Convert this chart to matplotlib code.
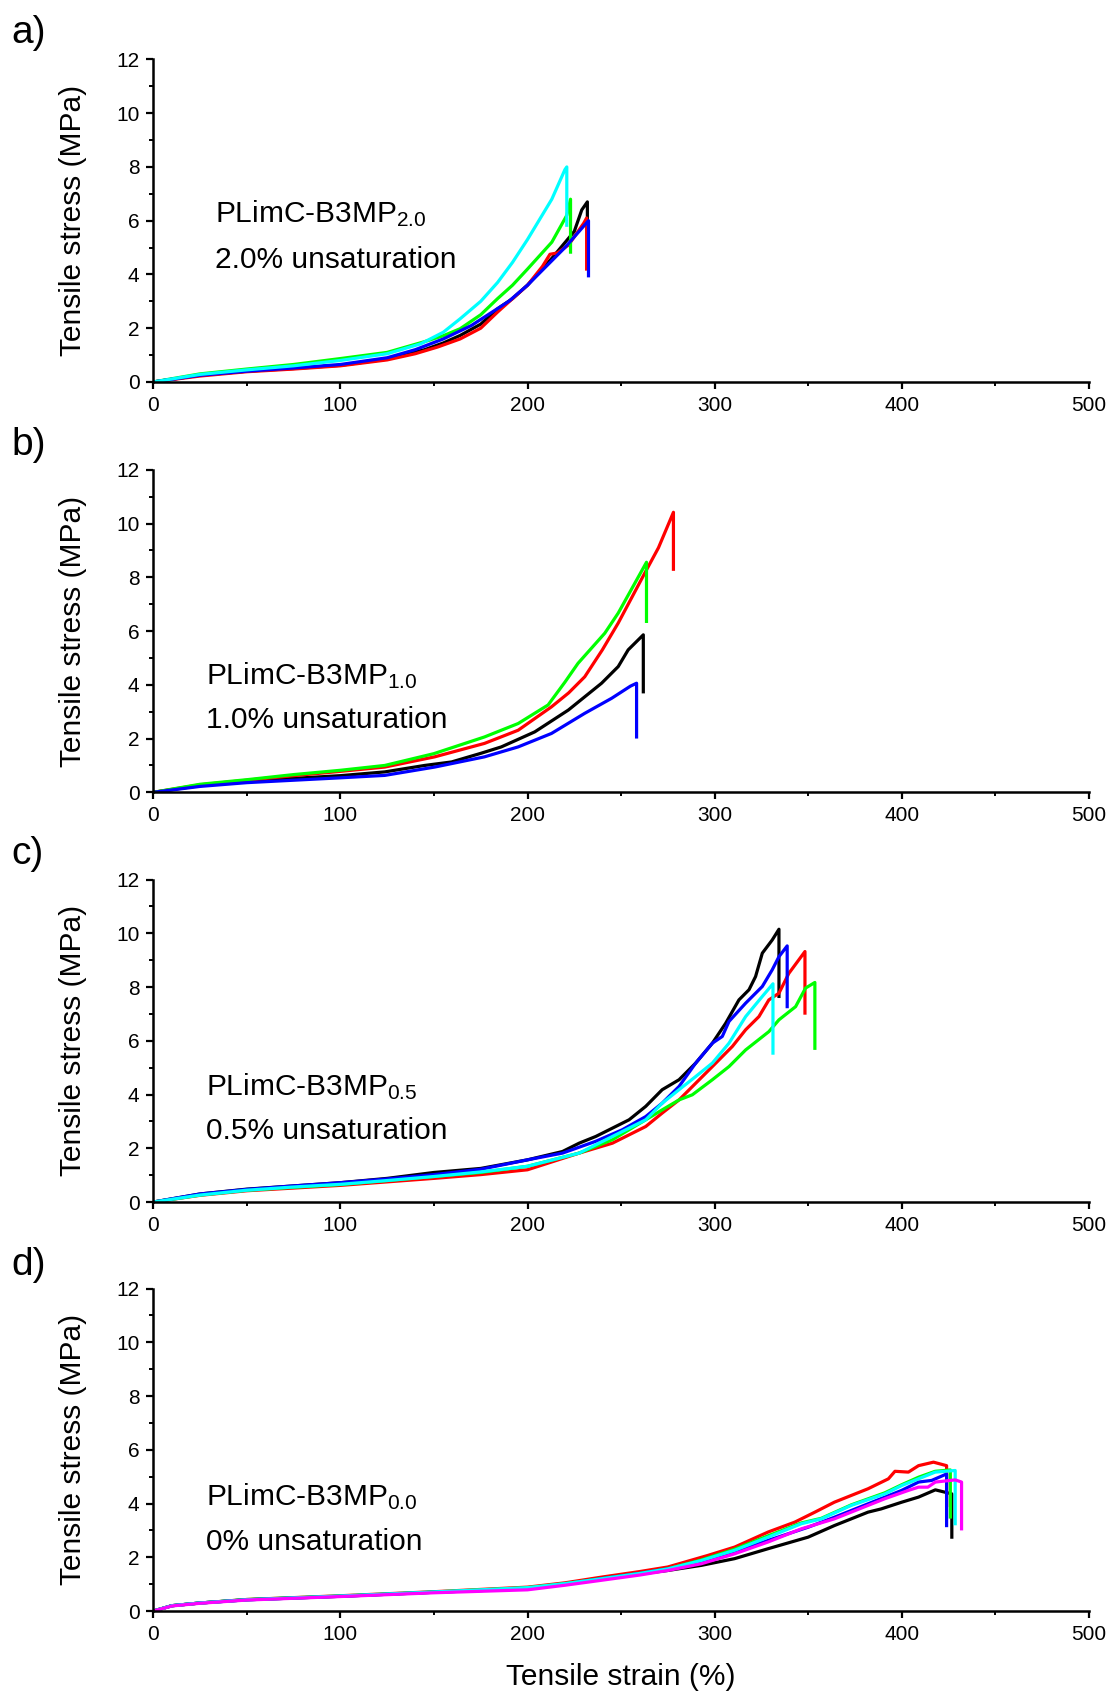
"""Tensile stress-strain curves of PLimC-B3MP films, four unsaturation levels."""

import matplotlib
matplotlib.use("Agg")
import matplotlib.pyplot as plt
from matplotlib.ticker import MultipleLocator

plt.rcParams["font.family"] = ["Liberation Sans", "DejaVu Sans"]
plt.rcParams["mathtext.default"] = "regular"

# (strain %, stress MPa); last point is the break drop
# a) 2.0 % unsaturation
a_black = [(0, 0), (25, 0.25), (50, 0.4), (75, 0.5), (100, 0.62), (125, 0.85), (145, 1.2),
           (155, 1.45), (164, 1.73), (175, 2.15), (184, 2.72), (192, 3.1), (200, 3.6),
           (213, 4.6), (225, 5.6), (229, 6.4), (232, 6.7), (232, 5.2)]
a_red = [(0, 0), (25, 0.22), (50, 0.38), (75, 0.48), (100, 0.6), (125, 0.82), (140, 1.05),
         (152, 1.3), (164, 1.6), (175, 2.0), (184, 2.6), (192, 3.1), (200, 3.6), (208, 4.3),
         (212, 4.75), (216, 4.8), (222, 5.1), (230, 5.9), (231.6, 6.1), (231.6, 4.2)]
a_green = [(0, 0), (25, 0.3), (50, 0.48), (75, 0.65), (100, 0.87), (125, 1.1), (145, 1.5),
           (155, 1.72), (164, 1.98), (175, 2.5), (184, 3.1), (192, 3.6), (200, 4.2),
           (213, 5.2), (221, 6.2), (223, 6.8), (223, 4.83)]
a_blue = [(0, 0), (25, 0.25), (50, 0.4), (75, 0.52), (100, 0.65), (125, 0.9), (140, 1.2),
          (155, 1.6), (170, 2.1), (180, 2.55), (190, 3.0), (200, 3.6), (210, 4.3),
          (220, 5.0), (232.6, 6.0), (232.6, 3.95)]
a_cyan = [(0, 0), (25, 0.28), (50, 0.45), (75, 0.6), (100, 0.8), (125, 1.05), (143, 1.42),
          (155, 1.85), (164, 2.35), (175, 3.0), (184, 3.7), (192, 4.45), (200, 5.3),
          (213, 6.8), (220, 7.9), (221, 8.0), (221, 5.83)]

# b) 1.0 % unsaturation
b_black = [(0, 0), (25, 0.25), (50, 0.4), (75, 0.52), (100, 0.62), (123.7, 0.76),
           (145, 1.0), (159.4, 1.13), (175, 1.45), (186, 1.69), (203.9, 2.25),
           (221.8, 3.06), (239.6, 4.06), (248.5, 4.68), (253.8, 5.3), (261.9, 5.86),
           (261.9, 3.74)]
b_red = [(0, 0), (25, 0.28), (50, 0.45), (75, 0.62), (100, 0.78), (123.7, 0.94),
         (150.4, 1.32), (177, 1.82), (195, 2.31), (212.8, 3.18), (222, 3.7), (230.6, 4.3),
         (240, 5.3), (248.5, 6.3), (262.7, 8.16), (270, 9.1), (278, 10.42), (278, 8.3)]
b_green = [(0, 0), (25, 0.3), (50, 0.47), (75, 0.66), (100, 0.82), (123.7, 1.0),
           (150, 1.44), (177, 2.06), (195, 2.56), (211, 3.25), (220, 4.1), (227, 4.8),
           (241.3, 5.92), (248.5, 6.67), (263.6, 8.56), (263.6, 6.36)]
b_blue = [(0, 0), (25, 0.22), (50, 0.36), (75, 0.45), (100, 0.54), (123.7, 0.63),
          (150.4, 0.94), (177, 1.32), (195, 1.69), (212.8, 2.19), (230.6, 2.94),
          (245, 3.5), (255, 3.95), (258.3, 4.06), (258.3, 2.06)]

# c) 0.5 % unsaturation
c_black = [(0, 0), (25, 0.3), (50, 0.48), (75, 0.6), (100, 0.72), (125, 0.88), (150, 1.1),
           (175, 1.25), (200, 1.57), (218.7, 1.88), (227.6, 2.19), (236.5, 2.44),
           (245.4, 2.75), (254.3, 3.06), (263.2, 3.56), (272, 4.18), (281, 4.55),
           (289.9, 5.17), (298.8, 5.91), (305.9, 6.65), (313, 7.52), (318.4, 7.9),
           (321.9, 8.39), (325.5, 9.26), (330.8, 9.75), (334.4, 10.15), (334.4, 7.65)]
c_red = [(0, 0), (25, 0.25), (50, 0.42), (75, 0.52), (100, 0.62), (125, 0.75), (150, 0.88),
         (175, 1.02), (200, 1.2), (227.6, 1.82), (245.4, 2.19), (263.2, 2.81), (272, 3.31),
         (281, 3.8), (289.9, 4.42), (298.8, 5.04), (309.5, 5.79), (316.6, 6.41),
         (323.7, 6.9), (329, 7.52), (334.4, 7.77), (339.7, 8.51), (348.3, 9.32),
         (348.3, 7.03)]
c_green = [(0, 0), (25, 0.26), (50, 0.44), (75, 0.55), (100, 0.65), (125, 0.8), (150, 0.95),
           (175, 1.1), (200, 1.33), (227.6, 1.82), (245.4, 2.32), (263.2, 3.06),
           (272, 3.43), (281, 3.8), (288.1, 3.99), (298.8, 4.55), (307.7, 5.04),
           (316.6, 5.66), (329, 6.34), (334.4, 6.78), (343.3, 7.27), (348.6, 7.96),
           (353.6, 8.17), (353.6, 5.72)]
c_blue = [(0, 0), (25, 0.3), (50, 0.47), (75, 0.6), (100, 0.72), (125, 0.86), (150, 1.02),
          (175, 1.22), (200, 1.57), (218.7, 1.82), (236.5, 2.26), (250.7, 2.69),
          (263.2, 3.18), (272, 3.68), (281, 4.3), (289.9, 5.17), (298.8, 5.91),
          (304.1, 6.16), (307.7, 6.72), (316.6, 7.4), (325.5, 8.02), (330.8, 8.64),
          (334.4, 9.13), (338.8, 9.53), (338.8, 7.27)]
c_cyan = [(0, 0), (25, 0.26), (50, 0.44), (75, 0.56), (100, 0.66), (125, 0.8), (150, 0.95),
          (175, 1.12), (200, 1.33), (227.6, 1.82), (245.4, 2.44), (263.2, 3.06),
          (272, 3.68), (281, 4.18), (289.9, 4.67), (298.8, 5.17), (307.7, 5.91),
          (316.6, 6.9), (325.5, 7.65), (331.2, 8.12), (331.2, 5.54)]

# d) 0 % unsaturation
d_black = [(0, 0), (10, 0.2), (25, 0.3), (50, 0.42), (100, 0.55), (150, 0.7), (200, 0.83),
           (220, 1.0), (239, 1.2), (260, 1.38), (275, 1.51), (292.9, 1.7), (310.7, 1.95),
           (328.6, 2.32), (350, 2.75), (364, 3.18), (373, 3.43), (382, 3.68), (389, 3.8),
           (400, 4.05), (409, 4.24), (418, 4.51), (426.8, 4.36), (426.8, 2.75)]
d_red = [(0, 0), (10, 0.2), (25, 0.3), (50, 0.43), (100, 0.57), (150, 0.72), (200, 0.89),
         (220, 1.05), (239.3, 1.26), (260, 1.47), (275, 1.64), (296.4, 2.07), (310.7, 2.38),
         (328.6, 2.94), (342.9, 3.31), (353.6, 3.68), (364, 4.05), (382, 4.55),
         (392.9, 4.92), (396.4, 5.2), (403.6, 5.17), (409, 5.41), (417, 5.54), (424, 5.41),
         (424, 3.93)]
d_green = [(0, 0), (10, 0.2), (25, 0.3), (50, 0.43), (100, 0.56), (150, 0.71), (200, 0.87),
           (220, 1.02), (239.3, 1.2), (260, 1.4), (275, 1.57), (292.9, 1.9), (310.7, 2.3),
           (328.6, 2.8), (346.4, 3.28), (357, 3.45), (373, 3.95), (391, 4.4), (400, 4.7),
           (409, 4.98), (417.9, 5.2), (426, 5.25), (426, 3.5)]
d_blue = [(0, 0), (10, 0.2), (25, 0.3), (50, 0.42), (100, 0.55), (150, 0.7), (200, 0.83),
          (220, 1.0), (239, 1.2), (260, 1.4), (275, 1.57), (292.9, 1.82), (310.7, 2.19),
          (328.6, 2.63), (350, 3.12), (364, 3.49), (382, 3.99), (391, 4.24), (400, 4.49),
          (409, 4.8), (416, 4.86), (424, 5.1), (424, 3.18)]
d_cyan = [(0, 0), (10, 0.2), (25, 0.3), (50, 0.42), (100, 0.56), (150, 0.71), (200, 0.87),
          (220, 1.02), (239.3, 1.2), (260, 1.4), (275, 1.57), (292.9, 1.88), (310.7, 2.26),
          (328.6, 2.75), (346.4, 3.25), (357, 3.43), (373, 3.93), (391, 4.36), (400, 4.67),
          (409, 4.92), (417.9, 5.17), (428.6, 5.23), (428.6, 3.25)]
d_magenta = [(0, 0), (10, 0.19), (25, 0.29), (50, 0.41), (100, 0.54), (150, 0.68),
             (200, 0.79), (220, 0.96), (239, 1.14), (260, 1.34), (275, 1.51), (292.9, 1.76),
             (310.7, 2.13), (328.6, 2.57), (346.4, 3.06), (364, 3.43), (382, 3.93),
             (391, 4.18), (403.6, 4.49), (409, 4.61), (414, 4.61), (418, 4.8), (428.6, 4.88),
             (432, 4.8), (432, 3.06)]

panel_letters = ["a)", "b)", "c)", "d)"]
sample_names = ["PLimC-B3MP$_{2.0}$", "PLimC-B3MP$_{1.0}$",
                "PLimC-B3MP$_{0.5}$", "PLimC-B3MP$_{0.0}$"]
unsat_labels = ["2.0% unsaturation", "1.0% unsaturation",
                "0.5% unsaturation", "0% unsaturation"]

COLORS = {"black": "#000000", "red": "#ff0000", "green": "#00ff00",
          "blue": "#0000ff", "cyan": "#00ffff", "magenta": "#ff00ff"}

panels = [
    [("black", a_black), ("red", a_red), ("green", a_green), ("blue", a_blue), ("cyan", a_cyan)],
    [("black", b_black), ("red", b_red), ("green", b_green), ("blue", b_blue)],
    [("black", c_black), ("red", c_red), ("green", c_green), ("blue", c_blue), ("cyan", c_cyan)],
    [("black", d_black), ("red", d_red), ("green", d_green), ("blue", d_blue),
     ("cyan", d_cyan), ("magenta", d_magenta)],
]

# text anchor positions in data units (x, y of first line, y of second line)
text_pos = [(33, 6.25, 4.55), (28, 4.35, 2.68), (28, 4.3, 2.66), (28, 4.27, 2.56)]

fig = plt.figure(figsize=(11.11, 16.93), dpi=100)
bottoms = [0.7744, 0.532, 0.290, 0.0484]
height = 0.1905
letter_y = [0.991, 0.748, 0.506, 0.2634]

for i, curves in enumerate(panels):
    ax = fig.add_axes([0.138, bottoms[i], 0.842, height])
    for name, pts in curves:
        xs = [p[0] for p in pts]
        ys = [p[1] for p in pts]
        ax.plot(xs, ys, color=COLORS[name], lw=2.3, solid_joinstyle="round")

    ax.set_xlim(0, 500)
    ax.set_ylim(0, 12)
    ax.xaxis.set_major_locator(MultipleLocator(100))
    ax.xaxis.set_minor_locator(MultipleLocator(50))
    ax.yaxis.set_major_locator(MultipleLocator(2))
    ax.yaxis.set_minor_locator(MultipleLocator(1))
    for side in ["top", "right"]:
        ax.spines[side].set_visible(False)
    for side in ["left", "bottom"]:
        ax.spines[side].set_linewidth(1.8)
    ax.tick_params(which="major", direction="out", length=5, width=1.6,
                   labelsize=15, pad=5)
    ax.tick_params(which="minor", direction="out", length=3, width=1.4)
    ax.set_ylabel("Tensile stress (MPa)", fontsize=21.5)
    ax.yaxis.set_label_coords(-0.071, 0.5)

    tx, ty1, ty2 = text_pos[i]
    ax.text(tx, ty1, sample_names[i], fontsize=21.5, va="center", ha="left")
    ax.text(tx, ty2, unsat_labels[i], fontsize=21.5, va="center", ha="left")

    fig.text(0.01, letter_y[i], panel_letters[i], fontsize=28, va="top", ha="left")

    if i == 3:
        ax.set_xlabel("Tensile strain (%)", fontsize=21.5, labelpad=14)

fig.savefig("out.png", dpi=100)
plt.close(fig)
